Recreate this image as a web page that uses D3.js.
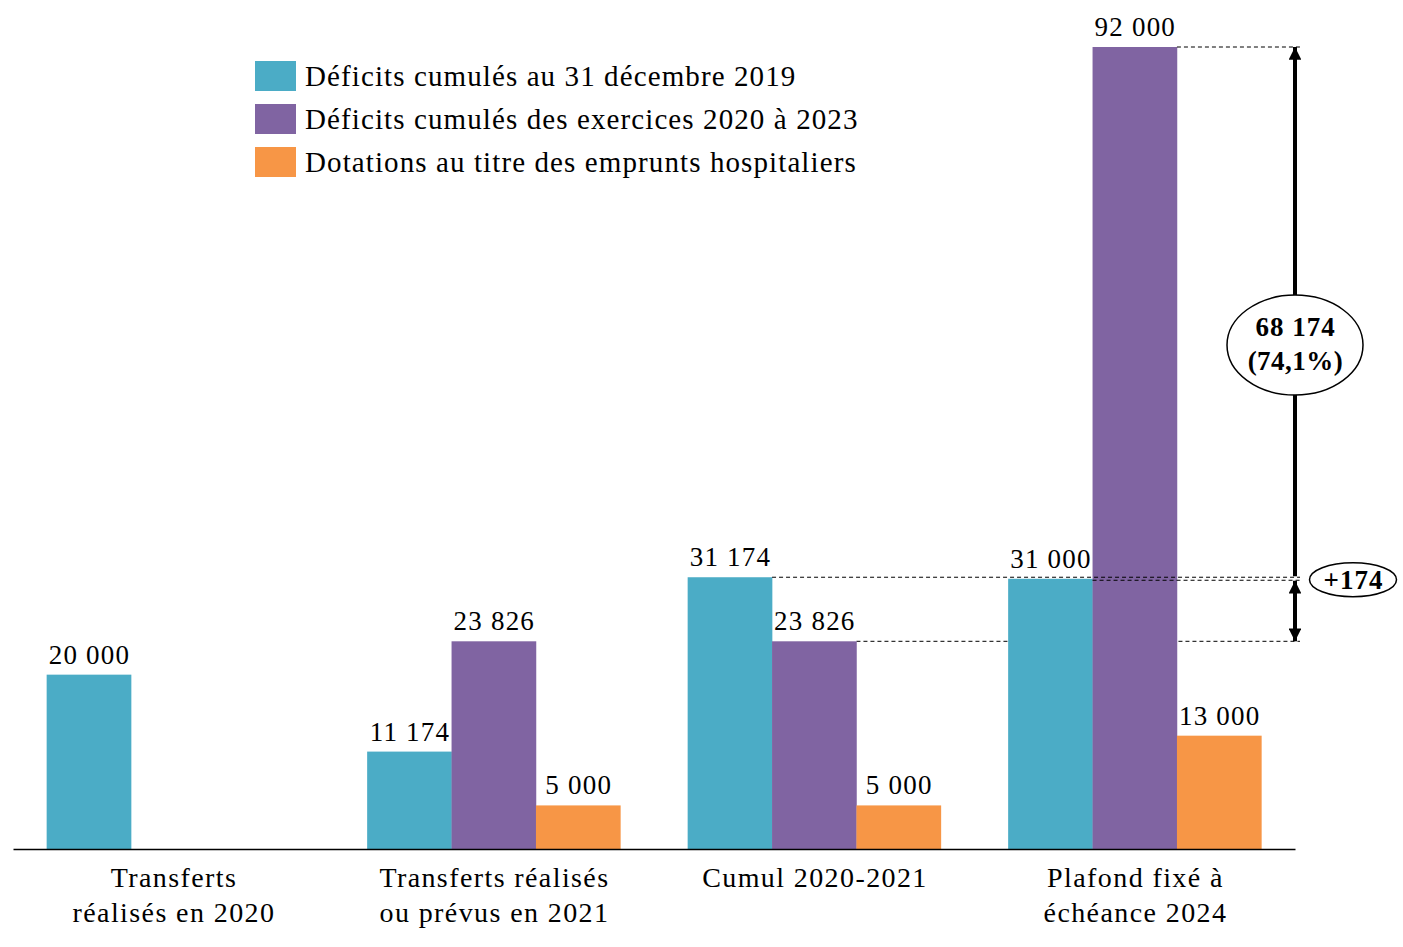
<!DOCTYPE html>
<html><head><meta charset="utf-8">
<script src="https://cdn.jsdelivr.net/npm/d3@7"></script>
<style>
html,body{margin:0;padding:0;background:#fff;}
svg{display:block;}
text{font-family:"Palatino Linotype","Book Antiqua",Palatino,"Liberation Serif",serif;fill:#000;}
</style></head>
<body>
<svg id="chart" width="1403" height="947"></svg>
<script>
const categories = [
  ["Transferts", "réalisés en 2020"],
  ["Transferts réalisés", "ou prévus en 2021"],
  ["Cumul 2020-2021"],
  ["Plafond fixé à", "échéance 2024"]
];
const seriesNames = [
  "Déficits cumulés au 31 décembre 2019",
  "Déficits cumulés des exercices 2020 à 2023",
  "Dotations au titre des emprunts hospitaliers"
];
const deficits2019 = [20000, 11174, 31174, 31000];
const deficits2020_2023 = [null, 23826, 23826, 92000];
const dotations = [null, 5000, 5000, 13000];
const colors = ["#4BACC6", "#8064A2", "#F79646"];
const annotGap = 68174, annotPct = "(74,1%)", annotSmall = 174;

const series = [deficits2019, deficits2020_2023, dotations];
const svg = d3.select("#chart");
const fmtSp = v => d3.format(",")(v).replace(/,/g, " ");

const x0 = d3.scaleBand().domain(d3.range(categories.length)).range([13, 1295]).paddingInner(0.21).paddingOuter(0.105);
const x1 = d3.scaleBand().domain(d3.range(series.length)).range([0, x0.bandwidth()]);
const y = d3.scaleLinear().domain([0, 92000]).range([849, 47]);

const data = [];
series.forEach((s, si) => s.forEach((v, ci) => { if (v != null) data.push({si, ci, v}); }));
const bx = d => x0(d.ci) + x1(d.si);
const bw = x1.bandwidth();

const xr = 1300;
svg.append("line").attr("x1", bx({ci:2, si:1}) + bw).attr("x2", xr)
  .attr("y1", y(deficits2020_2023[2])).attr("y2", y(deficits2020_2023[2]))
  .attr("stroke", "#000").attr("stroke-width", 1).attr("stroke-dasharray", "4,3");

svg.append("g").selectAll("rect").data(data).join("rect")
  .attr("x", bx).attr("width", bw + 0.3)
  .attr("y", d => y(d.v)).attr("height", d => y(0) - y(d.v))
  .attr("fill", d => colors[d.si]);

svg.append("g").selectAll("text").data(data).join("text")
  .attr("x", d => bx(d) + bw / 2 + 0.6).attr("y", d => y(d.v) - 11)
  .attr("text-anchor", "middle").attr("font-size", 27).attr("letter-spacing", 1.2)
  .text(d => fmtSp(d.v));

const xAxis = d3.axisBottom(x0).tickSize(0).tickFormat("");
const ax = svg.append("g").attr("transform", `translate(0,${y(0)})`).call(xAxis);
ax.select(".domain").attr("stroke", "#000").attr("stroke-width", 1.5);

const cl = svg.append("g").selectAll("text").data(categories).join("text")
  .attr("text-anchor", "middle").attr("font-size", 28).attr("letter-spacing", 1.4)
  .attr("transform", (d, i) => `translate(${x0(i) + x0.bandwidth() / 2 + 0.7},0)`);
cl.selectAll("tspan").data(d => d).join("tspan")
  .attr("x", 0).attr("y", (d, i) => 887 + i * 35).text(d => d);

const dash = (x1v, yv) => svg.append("line").attr("x1", x1v).attr("x2", xr)
  .attr("y1", yv).attr("y2", yv).attr("stroke", "#000").attr("stroke-width", 1).attr("stroke-dasharray", "4,3");
dash(bx({ci:3, si:1}) + bw, y(deficits2020_2023[3]));
dash(bx({ci:2, si:0}) + bw, y(deficits2019[2]));
dash(bx({ci:3, si:0}) + bw, y(deficits2019[3]) + 1.5);

const defs = svg.append("defs");
defs.append("marker").attr("id", "ah").attr("viewBox", "0 0 10 10").attr("refX", 10).attr("refY", 5)
  .attr("markerWidth", 4).attr("markerHeight", 3.2).attr("markerUnits", "strokeWidth").attr("orient", "auto-start-reverse")
  .append("path").attr("d", "M0,0 L10,5 L0,10 Z").attr("fill", "#000");
const ax0 = 1295;
svg.append("line").attr("x1", ax0).attr("x2", ax0).attr("y1", y(deficits2019[2]) - 1).attr("y2", y(deficits2020_2023[3]))
  .attr("stroke", "#000").attr("stroke-width", 4).attr("marker-end", "url(#ah)");
svg.append("line").attr("x1", ax0).attr("x2", ax0).attr("y1", y(deficits2019[3]) + 2).attr("y2", y(deficits2020_2023[2]))
  .attr("stroke", "#000").attr("stroke-width", 4).attr("marker-start", "url(#ah)").attr("marker-end", "url(#ah)");

const midY = (y(deficits2020_2023[3]) + y(deficits2019[2])) / 2 + 33;
svg.append("ellipse").attr("cx", ax0).attr("cy", midY).attr("rx", 68).attr("ry", 50)
  .attr("fill", "#fff").attr("stroke", "#000").attr("stroke-width", 1.5);
svg.append("text").attr("x", ax0 + 0.5).attr("y", midY - 9).attr("text-anchor", "middle")
  .attr("font-size", 27).attr("font-weight", "bold").attr("letter-spacing", 1).text(fmtSp(annotGap));
svg.append("text").attr("x", ax0 + 0.5).attr("y", midY + 25).attr("text-anchor", "middle")
  .attr("font-size", 27).attr("font-weight", "bold").attr("letter-spacing", 0.5).text(annotPct);
const sy = y(deficits2019[3]) + 1;
svg.append("ellipse").attr("cx", 1353).attr("cy", sy).attr("rx", 43.5).attr("ry", 17)
  .attr("fill", "#fff").attr("stroke", "#000").attr("stroke-width", 1.5);
svg.append("text").attr("x", 1353.5).attr("y", sy + 9).attr("text-anchor", "middle")
  .attr("font-size", 27).attr("font-weight", "bold").attr("letter-spacing", 1).text("+" + annotSmall);

const lg = svg.append("g").selectAll("g").data(seriesNames).join("g")
  .attr("transform", (d, i) => `translate(255,${61 + i * 43})`);
lg.append("rect").attr("width", 41).attr("height", 30).attr("fill", (d, i) => colors[i]);
lg.append("text").attr("x", 50).attr("y", 25).attr("font-size", 29).attr("letter-spacing", 1.1).text(d => d);
</script>
</body></html>
